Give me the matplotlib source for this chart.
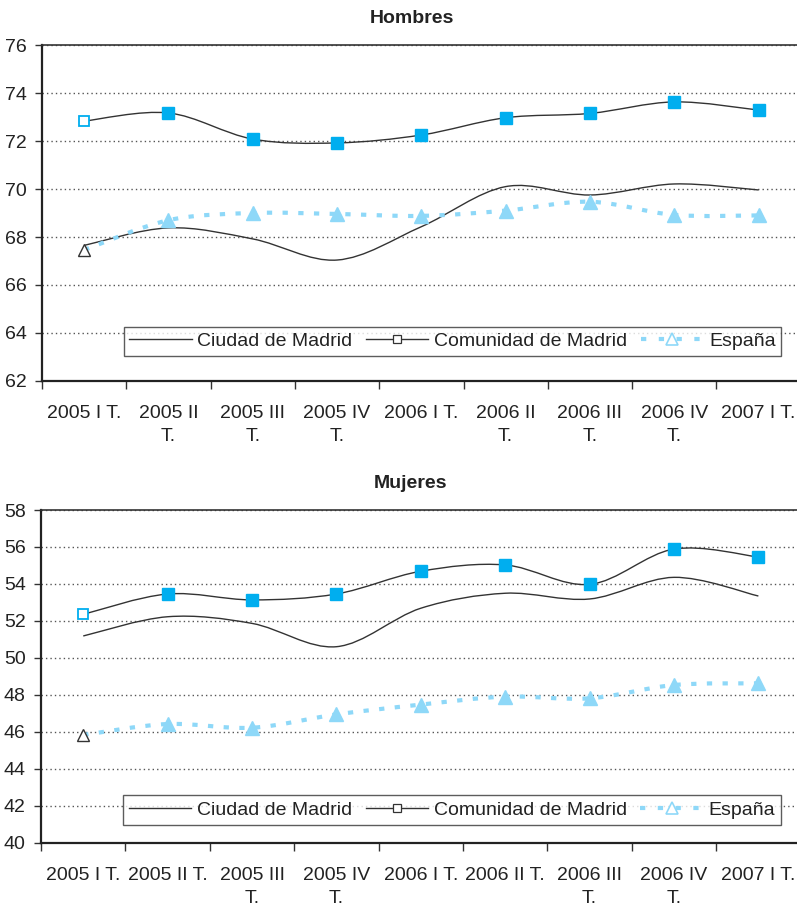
import matplotlib
matplotlib.use('Agg')
import matplotlib.pyplot as plt
import numpy as np
from matplotlib.lines import Line2D
from matplotlib.patches import PathPatch
from matplotlib.path import Path


QUARTERS = ['2005 I T.', '2005 II T.', '2005 III T.', '2005 IV T.', '2006 I T.',
            '2006 II T.', '2006 III T.', '2006 IV T.', '2007 I T.']
TOP_LABELS = ['2005 I T.', '2005 II\nT.', '2005 III\nT.', '2005 IV\nT.', '2006 I T.',
              '2006 II\nT.', '2006 III\nT.', '2006 IV\nT.', '2007 I T.']
BOTTOM_LABELS = ['2005 I T.', '2005 II T.', '2005 III\nT.', '2005 IV\nT.', '2006 I T.',
                 '2006 II T.', '2006 III\nT.', '2006 IV\nT.', '2007 I T.']

# Hombres
men_ciudad = [67.65, 68.38, 67.92, 67.04, 68.43, 70.1, 69.75, 70.21, 69.96]
men_comunidad = [72.83, 73.17, 72.08, 71.92, 72.25, 72.97, 73.15, 73.63, 73.29]
men_espana = [67.46, 68.7, 69.0, 68.96, 68.88, 69.1, 69.47, 68.92, 68.9]

# Mujeres
women_ciudad = [51.19, 52.23, 51.87, 50.61, 52.69, 53.5, 53.19, 54.36, 53.35]
women_comunidad = [52.36, 53.46, 53.14, 53.46, 54.69, 55.03, 53.98, 55.89, 55.46]
women_espana = [45.84, 46.43, 46.23, 46.95, 47.48, 47.91, 47.82, 48.54, 48.63]

SQUARE_BLUE = '#00AEEF'
LIGHT_BLUE = '#8ED8F8'
LINE_DARK = '#333333'
TEXT = '#222222'
FONT = 14

plt.rcParams['font.family'] = ['Liberation Sans', 'DejaVu Sans']
plt.rcParams['lines.scale_dashes'] = False


def smooth_path(xs, ys):
    # Bezier segments through the points (spreadsheet-style smoothed line)
    pts = np.column_stack([xs, ys]).astype(float)
    ext = np.vstack([pts[0], pts, pts[-1]])
    verts = [pts[0]]
    codes = [Path.MOVETO]
    for i in range(len(pts) - 1):
        p0, p1, p2, p3 = ext[i], ext[i + 1], ext[i + 2], ext[i + 3]
        c1 = p1 + (p2 - p0) / 6.0
        c2 = p2 - (p3 - p1) / 6.0
        verts += [c1, c2, p2]
        codes += [Path.CURVE4] * 3
    return Path(np.array(verts), codes)


def draw_panel(ax, title, ciudad, comunidad, espana, ylim, labels, legend_y):
    x = np.arange(len(QUARTERS))

    ax.add_patch(PathPatch(smooth_path(x, ciudad), fill=False,
                           edgecolor=LINE_DARK, lw=1.0, zorder=3))
    ax.add_patch(PathPatch(smooth_path(x, comunidad), fill=False,
                           edgecolor=LINE_DARK, lw=1.0, zorder=3))
    ax.add_patch(PathPatch(smooth_path(x, espana), fill=False,
                           edgecolor=LIGHT_BLUE, lw=3.0, capstyle='butt',
                           linestyle=(0, (3.8, 7.5)), zorder=3))

    ax.plot(x[1:], comunidad[1:], ls='none', marker='s', ms=8.5,
            mfc=SQUARE_BLUE, mec=SQUARE_BLUE, zorder=4)
    ax.plot(x[:1], comunidad[:1], ls='none', marker='s', ms=7,
            mfc='white', mec=SQUARE_BLUE, mew=1.3, zorder=4)
    ax.plot(x[1:], espana[1:], ls='none', marker='^', ms=10,
            mfc=LIGHT_BLUE, mec=LIGHT_BLUE, zorder=4)
    ax.plot(x[:1], espana[:1], ls='none', marker='^', ms=9,
            mfc='white', mec=LINE_DARK, mew=1.0, zorder=4)

    ax.set_xlim(-0.5, len(QUARTERS) - 0.5)
    ax.set_ylim(*ylim)
    ax.set_yticks(np.arange(ylim[0], ylim[1] + 1, 2))
    ax.yaxis.grid(True, linestyle=(0, (1.0, 2.2)), color='#555555', lw=1.0)
    ax.set_axisbelow(True)

    ax.set_xticks(x)
    ax.set_xticklabels(labels, linespacing=1.5)
    ax.set_xticks(np.arange(-0.5, len(QUARTERS), 1), minor=True)
    ax.tick_params(axis='x', which='major', length=0, pad=17,
                   labelsize=FONT, labelcolor=TEXT)
    ax.tick_params(axis='x', which='minor', length=6, width=1.0,
                   color=LINE_DARK, direction='out')
    ax.tick_params(axis='y', length=5, width=1.0, color=LINE_DARK,
                   pad=6, labelsize=FONT, labelcolor=TEXT)

    for side in ('left', 'bottom'):
        ax.spines[side].set_linewidth(1.6)
        ax.spines[side].set_color('#222222')
    ax.spines['top'].set_linewidth(1.2)
    ax.spines['top'].set_color('#333333')
    ax.spines['right'].set_visible(False)

    ax.set_title(title, fontsize=14, fontweight='bold', color=TEXT, pad=16,
                 x=0.487)

    handles = [
        Line2D([], [], color=LINE_DARK, lw=1.0),
        Line2D([], [], color=LINE_DARK, lw=1.0, marker='s', ms=6,
               mfc='white', mec=LINE_DARK, mew=0.9),
        Line2D([], [], color=LIGHT_BLUE, lw=3.0, dash_capstyle='butt',
               linestyle=(0, (3.8, 9.0)), marker='^', ms=8,
               mfc='white', mec=LIGHT_BLUE, mew=1.2),
    ]
    leg = ax.legend(handles, ['Ciudad de Madrid', 'Comunidad de Madrid', 'España'],
                    loc='center', bbox_to_anchor=(0.541, legend_y), ncol=3,
                    fontsize=FONT, frameon=True, fancybox=False,
                    handlelength=3.2, handletextpad=0.3, columnspacing=0.7,
                    borderpad=0.3, borderaxespad=0)
    leg.get_frame().set_edgecolor('#333333')
    leg.get_frame().set_linewidth(1.0)
    for t in leg.get_texts():
        t.set_color(TEXT)


fig = plt.figure(figsize=(7.97, 9.13), dpi=100)
ax_top = fig.add_axes([0.0527, 0.5827, 0.952, 0.368])
ax_bot = fig.add_axes([0.0515, 0.0767, 0.953, 0.3647])

draw_panel(ax_top, 'Hombres', men_ciudad, men_comunidad, men_espana,
           (62, 76), TOP_LABELS, 0.1176)
draw_panel(ax_bot, 'Mujeres', women_ciudad, women_comunidad, women_espana,
           (40, 58), BOTTOM_LABELS, 0.099)

fig.savefig('out.png', dpi=100)
plt.close(fig)
